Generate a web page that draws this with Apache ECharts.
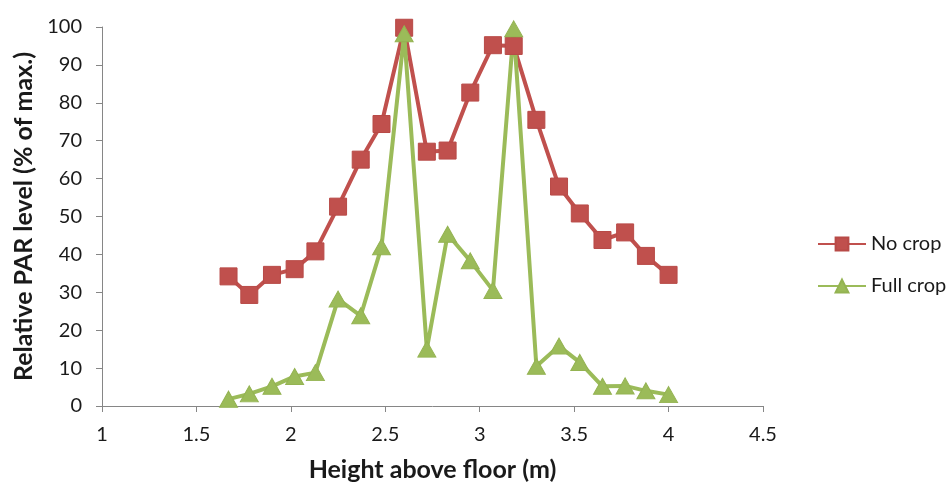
<!DOCTYPE html>
<html>
<head>
<meta charset="utf-8">
<script src="https://cdn.jsdelivr.net/npm/echarts@6/dist/echarts.min.js"></script>
<style>
html,body{margin:0;padding:0;background:#fff;}
#chart{width:948px;height:488px;}
</style>
</head>
<body>
<div id="chart"></div>
<script>
const heights = [1.67, 1.78, 1.90, 2.02, 2.13, 2.25, 2.37, 2.48, 2.60, 2.72, 2.83, 2.95, 3.07, 3.18, 3.30, 3.42, 3.53, 3.65, 3.77, 3.88, 4.00];
const noCrop = [34.2, 29.3, 34.6, 36.1, 40.8, 52.6, 65.0, 74.4, 99.8, 67.1, 67.4, 82.7, 95.2, 95.0, 75.5, 57.9, 50.8, 43.8, 45.8, 39.6, 34.6];
const fullCrop = [1.8, 3.2, 5.2, 7.8, 8.8, 28.2, 23.8, 42.0, 98.2, 15.0, 45.3, 38.3, 30.5, 99.5, 10.5, 15.8, 11.5, 5.2, 5.3, 4.0, 3.0];
const seriesNames = ['No crop', 'Full crop'];

const font = 'Lato, "Open Sans", sans-serif';
const chart = echarts.init(document.getElementById('chart'));
const pair = (xs, ys) => xs.map((x, i) => [x, ys[i]]);

chart.setOption({
  animation: false,
  grid: { left: 102, right: 185, top: 27, bottom: 82 },
  legend: {
    orient: 'vertical',
    left: 812,
    top: 229,
    itemWidth: 48,
    itemHeight: 16,
    itemGap: 22,
    textStyle: { fontFamily: font, fontSize: 20, color: '#1a1a1a' },
    data: seriesNames
  },
  xAxis: {
    type: 'value',
    min: 1, max: 4.5, interval: 0.5,
    name: 'Height above floor (m)',
    nameLocation: 'middle',
    nameGap: 51,
    nameTextStyle: { fontFamily: font, fontSize: 25, fontWeight: 'bold', color: '#1a1a1a' },
    axisLine: { show: true, lineStyle: { color: '#868686', width: 1 } },
    axisTick: { show: true, length: 6, lineStyle: { color: '#868686' } },
    axisLabel: { fontFamily: font, fontSize: 20, color: '#1a1a1a', margin: 19 },
    splitLine: { show: false }
  },
  yAxis: {
    type: 'value',
    min: 0, max: 100, interval: 10,
    name: 'Relative PAR level (% of max.)',
    nameLocation: 'middle',
    nameGap: 62,
    nameTextStyle: { fontFamily: font, fontSize: 25, fontWeight: 'bold', color: '#1a1a1a' },
    axisLine: { show: true, lineStyle: { color: '#868686', width: 1 } },
    axisTick: { show: true, length: 6, lineStyle: { color: '#868686' } },
    axisLabel: { fontFamily: font, fontSize: 20, color: '#1a1a1a', margin: 20 },
    splitLine: { show: false }
  },
  series: [
    {
      name: seriesNames[0],
      type: 'line',
      data: pair(heights, noCrop),
      symbol: 'rect',
      symbolSize: 17,
      lineStyle: { color: '#C0504D', width: 4 },
      itemStyle: { color: '#C0504D', borderColor: '#B84A47', borderWidth: 1 }
    },
    {
      name: seriesNames[1],
      type: 'line',
      data: pair(heights, fullCrop),
      symbol: 'triangle',
      symbolSize: [18, 16],
      lineStyle: { color: '#9BBB59', width: 4 },
      itemStyle: { color: '#9BBB59', borderColor: '#94B352', borderWidth: 1 }
    }
  ]
});
</script>
</body>
</html>
